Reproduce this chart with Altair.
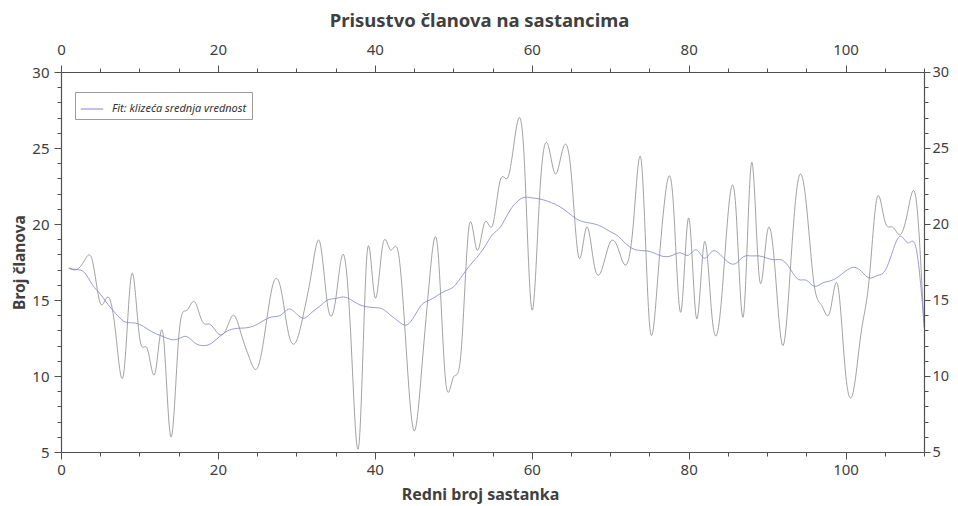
import altair as alt
import pandas as pd

# Meeting numbers (x), number of members present (y) and the moving average fit
meeting = list(range(1, 111))
members = [
    17.1, 17.0, 17.6, 17.6, 14.8, 15.2, 12.7, 10.2, 16.7, 12.6,
    11.8, 10.2, 12.8, 6.0, 12.5, 14.3, 14.9, 13.6, 13.4, 12.8,
    13.0, 14.0, 12.7, 11.2, 10.5, 12.9, 16.0, 15.8, 12.8, 12.3,
    14.3, 17.0, 18.8, 14.6, 15.0, 18.0, 12.0, 5.6, 18.0, 15.2,
    18.6, 18.3, 18.1, 11.8, 6.4, 10.6, 16.5, 18.5, 9.8, 9.9,
    11.6, 19.8, 18.3, 20.1, 19.9, 22.9, 23.1, 26.2, 24.7, 14.4,
    21.8, 25.3, 23.3, 25.0, 23.5, 17.8, 19.8, 17.2, 17.1, 18.8,
    18.4, 17.3, 20.3, 24.0, 13.5, 16.0, 21.8, 21.7, 14.2, 20.4,
    13.8, 18.8, 13.8, 14.0, 20.5, 21.2, 14.0, 24.0, 16.5, 19.4,
    17.1, 12.0, 17.3, 23.0, 21.3, 16.0, 14.6, 14.2, 16.0, 10.2,
    9.0, 12.9, 16.3, 21.7, 20.2, 19.8, 19.3, 21.0, 21.6, 13.2,
]
moving_avg = [
    17.1, 17.0, 16.8, 16.0, 15.4, 14.7, 14.1, 13.6, 13.5, 13.4,
    13.1, 12.8, 12.6, 12.4, 12.45, 12.6, 12.2, 12.0, 12.1, 12.5,
    12.9, 13.1, 13.15, 13.2, 13.4, 13.7, 13.9, 14.0, 14.4, 14.1,
    13.8, 14.2, 14.6, 15.0, 15.1, 15.2, 15.0, 14.7, 14.55, 14.5,
    14.4, 14.0, 13.6, 13.35, 13.9, 14.7, 15.0, 15.3, 15.6, 15.85,
    16.5, 17.2, 17.8, 18.5, 19.3, 19.8, 20.7, 21.4, 21.75, 21.72,
    21.65, 21.5, 21.3, 21.0, 20.6, 20.25, 20.1, 20.0, 19.8, 19.5,
    19.2, 18.7, 18.35, 18.25, 18.2, 18.0, 17.85, 17.95, 18.1, 17.95,
    18.3, 17.75, 18.2, 18.0, 17.5, 17.4, 17.85, 17.9, 17.9, 17.75,
    17.65, 17.6, 17.0, 16.35, 16.3, 15.9, 16.1, 16.25, 16.5, 16.9,
    17.15, 16.9, 16.45, 16.6, 16.9, 18.2, 19.2, 18.75, 18.4, 13.5,
]
fit_label = "Fit: klizeća srednja vrednost"
x_ticks = list(range(0, 111, 5))
y_ticks = list(range(5, 31))

df = pd.DataFrame({
    "sastanak": meeting,
    "clanovi": members,
    "fit": moving_avg,
    "serija": [fit_label] * len(meeting),
})

FONT = "Noto Sans"
AX = "#505050"
TXT = "#404040"

def tick_size(mod, big, small):
    return {"condition": {"test": f"datum.value % {mod} === 0", "value": big}, "value": small}

def axis(orient, values, mod_label, pad, big=7, small=4, fs=15, **kw):
    return alt.Axis(
        orient=orient, values=values,
        labelExpr=f"datum.value % {mod_label} === 0 ? datum.label : ''",
        tickSize=tick_size(mod_label, big, small),
        domainColor=AX, tickColor=AX, domainWidth=1.2, tickWidth=1,
        labelColor=TXT, labelFont=FONT, labelFontSize=fs, labelPadding=pad,
        labelOverlap=False, grid=False, **kw)

xs = alt.Scale(domain=[0, 110], nice=False, zero=False)
ys = alt.Scale(domain=[5, 30], nice=False, zero=False)

base = alt.Chart(df)

data_line = base.mark_line(interpolate="natural", color="#7a7a7a", strokeWidth=0.7, clip=True).encode(
    x=alt.X("sastanak:Q", scale=xs,
            axis=axis("bottom", x_ticks, 20, 3, labelFlush=False,
                      title="Redni broj sastanka", titleFont=FONT, titleFontSize=16,
                      titleFontWeight="bold", titleColor=TXT, titleX=419, titleY=34)),
    y=alt.Y("clanovi:Q", scale=ys,
            axis=axis("left", y_ticks, 5, 5,
                      title="Broj članova", titleFont=FONT, titleFontSize=15.5,
                      titleFontWeight="bold", titleColor=TXT, titleX=-34, titleY=190)),
)

fit_line = base.mark_line(interpolate="natural", strokeWidth=0.8, clip=True).encode(
    x=alt.X("sastanak:Q", scale=xs,
            axis=axis("top", x_ticks, 20, 8, labelFlush=False, title=None)),
    y=alt.Y("fit:Q", scale=ys,
            axis=axis("right", y_ticks, 5, 2, big=6, small=4, fs=14.5, title=None)),
    color=alt.Color("serija:N",
                    scale=alt.Scale(domain=[fit_label], range=["#8282c8"]),
                    legend=alt.Legend(orient="none", legendX=14, legendY=20, title=None,
                                      symbolType="stroke", symbolStrokeWidth=1, symbolSize=500,
                                      labelFont=FONT, labelFontSize=11, labelFontStyle="italic",
                                      labelColor="#333333", fillColor="white",
                                      strokeColor="#9a9a9a", padding=5, labelOffset=8,
                                      cornerRadius=0)),
)

chart = alt.layer(data_line, fit_line).resolve_scale(
    x="independent", y="independent"
).properties(
    width=863, height=380,
    autosize=alt.AutoSizeParams(type="none"),
    padding={"left": 53, "top": 64, "right": 26, "bottom": 52},
    title=alt.TitleParams("Prisustvo članova na sastancima", font=FONT, fontSize=18.5,
                          fontWeight="bold", color=TXT, anchor="middle", dx=-13, offset=12),
).configure_view(stroke=None)

chart.save("out.html", embed_options={"renderer": "svg", "actions": False})
